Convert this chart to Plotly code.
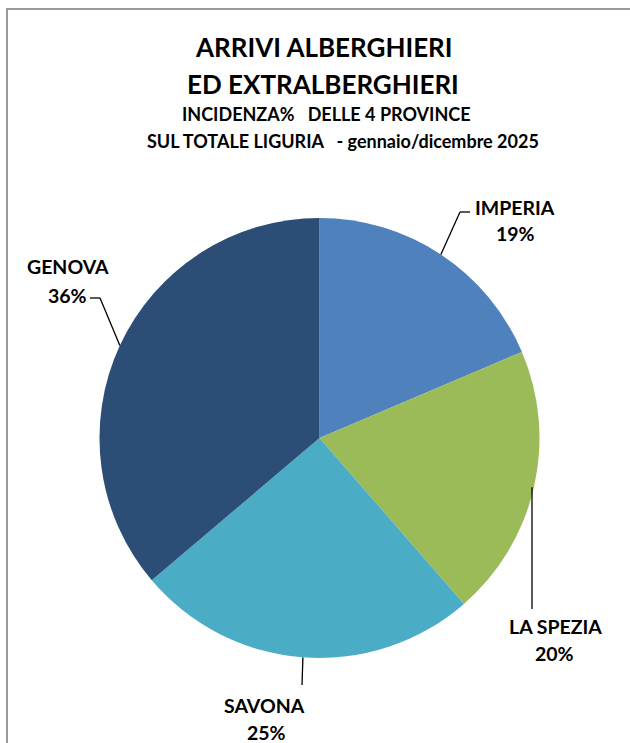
import math
import plotly.graph_objects as go

# ---- data ----
provinces = ["IMPERIA", "LA SPEZIA", "SAVONA", "GENOVA"]
shares = [18.6, 20.0, 25.2, 36.2]
colors = ["#4F81BD", "#9BBB59", "#4BACC6", "#2C4D75"]

title_lines = ["ARRIVI ALBERGHIERI", "ED EXTRALBERGHIERI"]
subtitle_lines = ["INCIDENZA%   DELLE 4 PROVINCE",
                  "SUL TOTALE LIGURIA   - gennaio/dicembre 2025"]

# ---- layout geometry (pixels, in screenshot coordinates) ----
W, H = 630, 743
CX, CY, R = 319.5, 438.0, 220.0
FONT = "Lato, Carlito, Calibri, sans-serif"

def px(x):
    return x / W

def py(y):
    return 1 - y / H

fig = go.Figure(go.Pie(
    labels=provinces,
    values=shares,
    sort=False,
    direction="clockwise",
    rotation=0,
    marker=dict(colors=colors, line=dict(width=0)),
    textinfo="none",
    hoverinfo="label+percent",
    domain=dict(x=[px(CX - R), px(CX + R)], y=[py(CY + R), py(CY - R)]),
    showlegend=False,
))

# mid angles of slices (clockwise from top) -> leader line anchor points
total = sum(shares)
mids = []
cum = 0
for v in shares:
    mids.append((cum + v / 2) / total * 2 * math.pi)
    cum += v

def edge(i, r=R):
    a = mids[i]
    return CX + r * math.sin(a), CY - r * math.cos(a)

# label text positions (name line, percent line) and leader-line elbows (pixels)
label_pos = {
    "IMPERIA": ((515, 207), (515, 233)),
    "LA SPEZIA": ((555, 626), (554, 653)),
    "SAVONA": ((264.5, 705), (266, 732)),
    "GENOVA": ((68, 266), (67, 295)),
}
leader_path = {
    "IMPERIA": [(460, 212), (470, 212)],
    "LA SPEZIA": [(532, 609)],
    "SAVONA": [(302, 685)],
    "GENOVA": [(100, 298), (90, 298)],
}

shapes = []
annotations = []
for i, name in enumerate(provinces):
    sx, sy = edge(i)
    if name == "LA SPEZIA":
        sx, sy = 532, edge(i)[1]
    pts = [(sx, sy)] + leader_path[name]
    for (x0, y0), (x1, y1) in zip(pts[:-1], pts[1:]):
        shapes.append(dict(type="line", xref="paper", yref="paper",
                           x0=px(x0), y0=py(y0), x1=px(x1), y1=py(y1),
                           line=dict(color="#000000", width=1.3)))
    (nx, ny), (qx, qy) = label_pos[name]
    for txt, (lx, ly) in ((name, (nx, ny)),
                          (f"{round(shares[i] / total * 100)}%", (qx, qy))):
        annotations.append(dict(
            x=px(lx), y=py(ly), xref="paper", yref="paper",
            text=f"<b>{txt}</b>",
            showarrow=False, xanchor="center", yanchor="middle",
            font=dict(family=FONT, size=19.5, color="#000000"),
        ))

# titles
for text, (x, y) in zip(title_lines, [(324, 47), (323, 84)]):
    annotations.append(dict(x=px(x), y=py(y), xref="paper", yref="paper",
                            text=f"<b>{text}</b>", showarrow=False,
                            xanchor="center", yanchor="middle",
                            font=dict(family=FONT, size=26, color="#000000")))
for text, (x, y) in zip(subtitle_lines, [(326, 114), (343, 141)]):
    annotations.append(dict(x=px(x), y=py(y), xref="paper", yref="paper",
                            text=f"<b>{text}</b>", showarrow=False,
                            xanchor="center", yanchor="middle",
                            font=dict(family=FONT, size=18, color="#000000")))

# chart border
shapes.append(dict(type="rect", xref="paper", yref="paper",
                   x0=px(7), y0=py(9), x1=px(W + 30), y1=py(H + 30),
                   line=dict(color="#9a9a9a", width=2), fillcolor="rgba(0,0,0,0)"))

fig.update_layout(
    width=W, height=H,
    margin=dict(l=0, r=0, t=0, b=0),
    paper_bgcolor="white",
    plot_bgcolor="white",
    font=dict(family=FONT, color="#000000"),
    shapes=shapes,
    annotations=annotations,
)

fig.write_html(
    "out.html",
    config={"displayModeBar": False},
    post_script="document.body.style.margin='0';document.body.style.overflow='hidden';",
)
